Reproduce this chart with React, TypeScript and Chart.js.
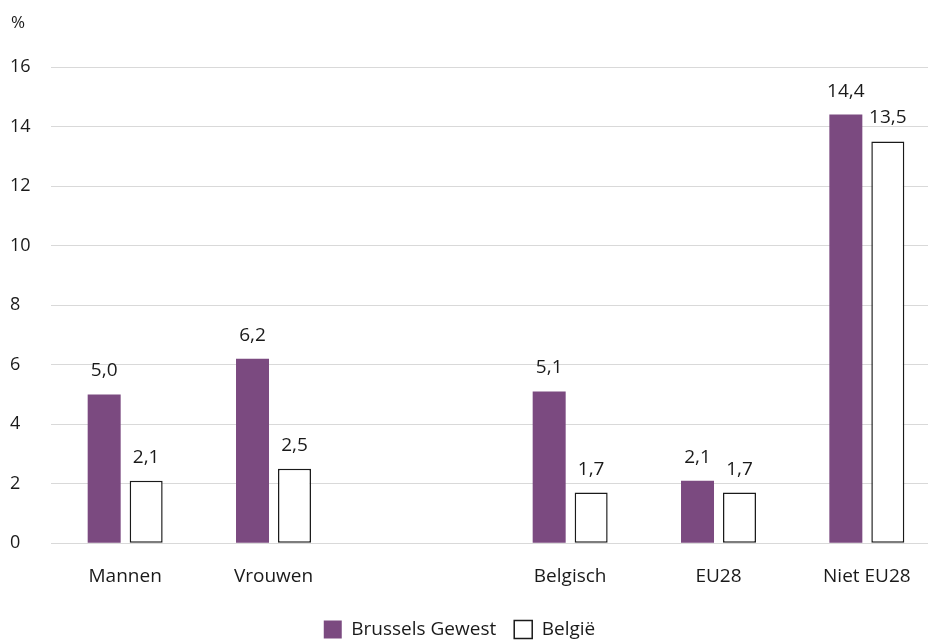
import React, { useEffect, useRef } from "react";
import { Chart, registerables } from "chart.js";

Chart.register(...registerables);

const categories = ["Mannen", "Vrouwen", "", "Belgisch", "EU28", "Niet EU28"];
const brusselsValues: (number | null)[] = [5.0, 6.2, null, 5.1, 2.1, 14.4];
const belgieValues: (number | null)[] = [2.1, 2.5, null, 1.7, 1.7, 13.5];
const seriesNames = ["Brussels Gewest", "België"];
const yTicks = [0, 2, 4, 6, 8, 10, 12, 14, 16];
const unitLabel = "%";

const PURPLE = "#7B4A80";
const TEXT = "#1a1a1a";
const FONT = "'Open Sans', sans-serif";

const valueLabels = {
  id: "valueLabels",
  afterDatasetsDraw(chart: any) {
    const ctx = chart.ctx;
    ctx.save();
    ctx.font = `19px ${FONT}`;
    ctx.fillStyle = TEXT;
    ctx.textAlign = "center";
    ctx.textBaseline = "alphabetic";
    chart.data.datasets.forEach((ds: any, di: number) => {
      const meta = chart.getDatasetMeta(di);
      meta.data.forEach((el: any, i: number) => {
        const v = ds.data[i];
        if (v === null || v === undefined) return;
        const txt = v.toFixed(1).replace(".", ",");
        ctx.fillText(txt, el.x, el.y - 18);
      });
    });
    ctx.restore();
  },
};

const unitPlugin = {
  id: "unitLabel",
  afterLayout(chart: any) {
    if (chart.legend) {
      chart.legend.right -= 32;
    }
  },
  afterDraw(chart: any) {
    const ctx = chart.ctx;
    ctx.save();
    ctx.font = `17px ${FONT}`;
    ctx.fillStyle = TEXT;
    ctx.textAlign = "left";
    ctx.textBaseline = "middle";
    ctx.fillText(unitLabel, 11, 23);
    ctx.restore();
  },
};

export default function App() {
  const ref = useRef<HTMLCanvasElement>(null);
  useEffect(() => {
    if (!ref.current) return;
    const chart = new Chart(ref.current, {
      type: "bar",
      data: {
        labels: categories,
        datasets: [
          {
            label: seriesNames[0],
            data: brusselsValues,
            backgroundColor: PURPLE,
            borderWidth: 0,
            categoryPercentage: 0.566,
            barPercentage: 0.786,
          },
          {
            label: seriesNames[1],
            data: belgieValues,
            backgroundColor: "#ffffff",
            borderColor: "#1a1a1a",
            borderWidth: 1.5,
            borderSkipped: false,
            categoryPercentage: 0.566,
            barPercentage: 0.786,
          },
        ],
      },
      options: {
        animation: false,
        responsive: true,
        maintainAspectRatio: false,
        layout: { padding: { left: 10, right: 0, top: 67, bottom: 0 } },
        scales: {
          x: {
            grid: { display: false },
            border: { display: false },
            ticks: {
              color: TEXT,
              font: { family: FONT, size: 19 },
              padding: 14,
              maxRotation: 0,
              autoSkip: false,
            },
          },
          y: {
            min: 0,
            max: 16,
            afterBuildTicks: (scale: any) => {
              scale.ticks = yTicks.map((v) => ({ value: v }));
            },
            afterFit: (scale: any) => {
              scale.width = 41;
            },
            grid: { color: "#D9D9D9", lineWidth: 1, drawTicks: false },
            border: { display: false },
            ticks: {
              color: TEXT,
              font: { family: FONT, size: 18 },
              crossAlign: "far",
              padding: 0,
            },
          },
        },
        plugins: {
          legend: {
            position: "bottom",
            labels: {
              color: TEXT,
              font: { family: FONT, size: 19 },
              boxWidth: 18,
              boxHeight: 18,
              padding: 18,
            },
          },
          tooltip: { enabled: false },
        },
      },
      plugins: [valueLabels, unitPlugin],
    });
    return () => chart.destroy();
  }, []);
  return (
    <div style={{ position: "fixed", left: 0, top: 0, width: 941, height: 649, background: "#fff" }}>
      <canvas ref={ref} />
    </div>
  );
}
